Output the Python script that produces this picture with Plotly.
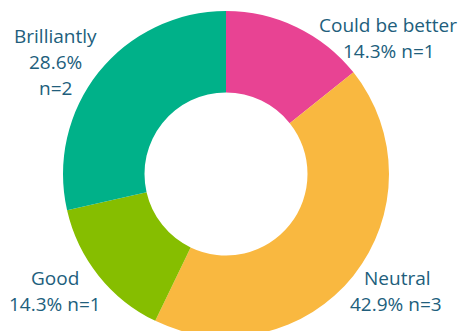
import plotly.graph_objects as go

labels = ["Could be better", "Neutral", "Good", "Brilliantly"]
counts = [1, 3, 1, 2]
colors = ["#E84393", "#F9B840", "#86BE00", "#00B189"]

W, H = 464, 343
total = sum(counts)
pcts = [f"{c / total * 100:.1f}%" for c in counts]

fig = go.Figure(go.Pie(
    labels=labels, values=counts, hole=0.5, sort=False, direction="clockwise",
    rotation=0, textinfo="none", hoverinfo="label+percent+value",
    marker=dict(colors=colors, line=dict(width=0)),
    domain=dict(x=[63 / W, 389 / W], y=[(H - 337) / H, (H - 11) / H]),
    showlegend=False,
))

# label text lines (built from the data) and their pixel anchors
lines = [
    (labels[0], 388, 25), (f"{pcts[0]} n={counts[0]}", 389, 51),
    (labels[3], 55, 36), (pcts[3], 55, 62), (f"n={counts[3]}", 55, 88),
    (labels[2], 55, 278), (f"{pcts[2]} n={counts[2]}", 55, 304),
    (labels[1], 397, 278), (f"{pcts[1]} n={counts[1]}", 396, 304),
]
for txt, px, py in lines:
    fig.add_annotation(
        text=txt, x=px / W, y=1 - py / H, xref="paper", yref="paper",
        xanchor="center", yanchor="middle", showarrow=False,
        font=dict(family="Open Sans, sans-serif", size=19, color="#215E7C"),
    )

fig.update_layout(
    width=W, height=H, margin=dict(l=0, r=0, t=0, b=0),
    paper_bgcolor="white", plot_bgcolor="white",
)
fig.write_html("out.html", config={"displayModeBar": False},
               post_script="document.documentElement.style.overflow='hidden';document.body.style.overflow='hidden';")
